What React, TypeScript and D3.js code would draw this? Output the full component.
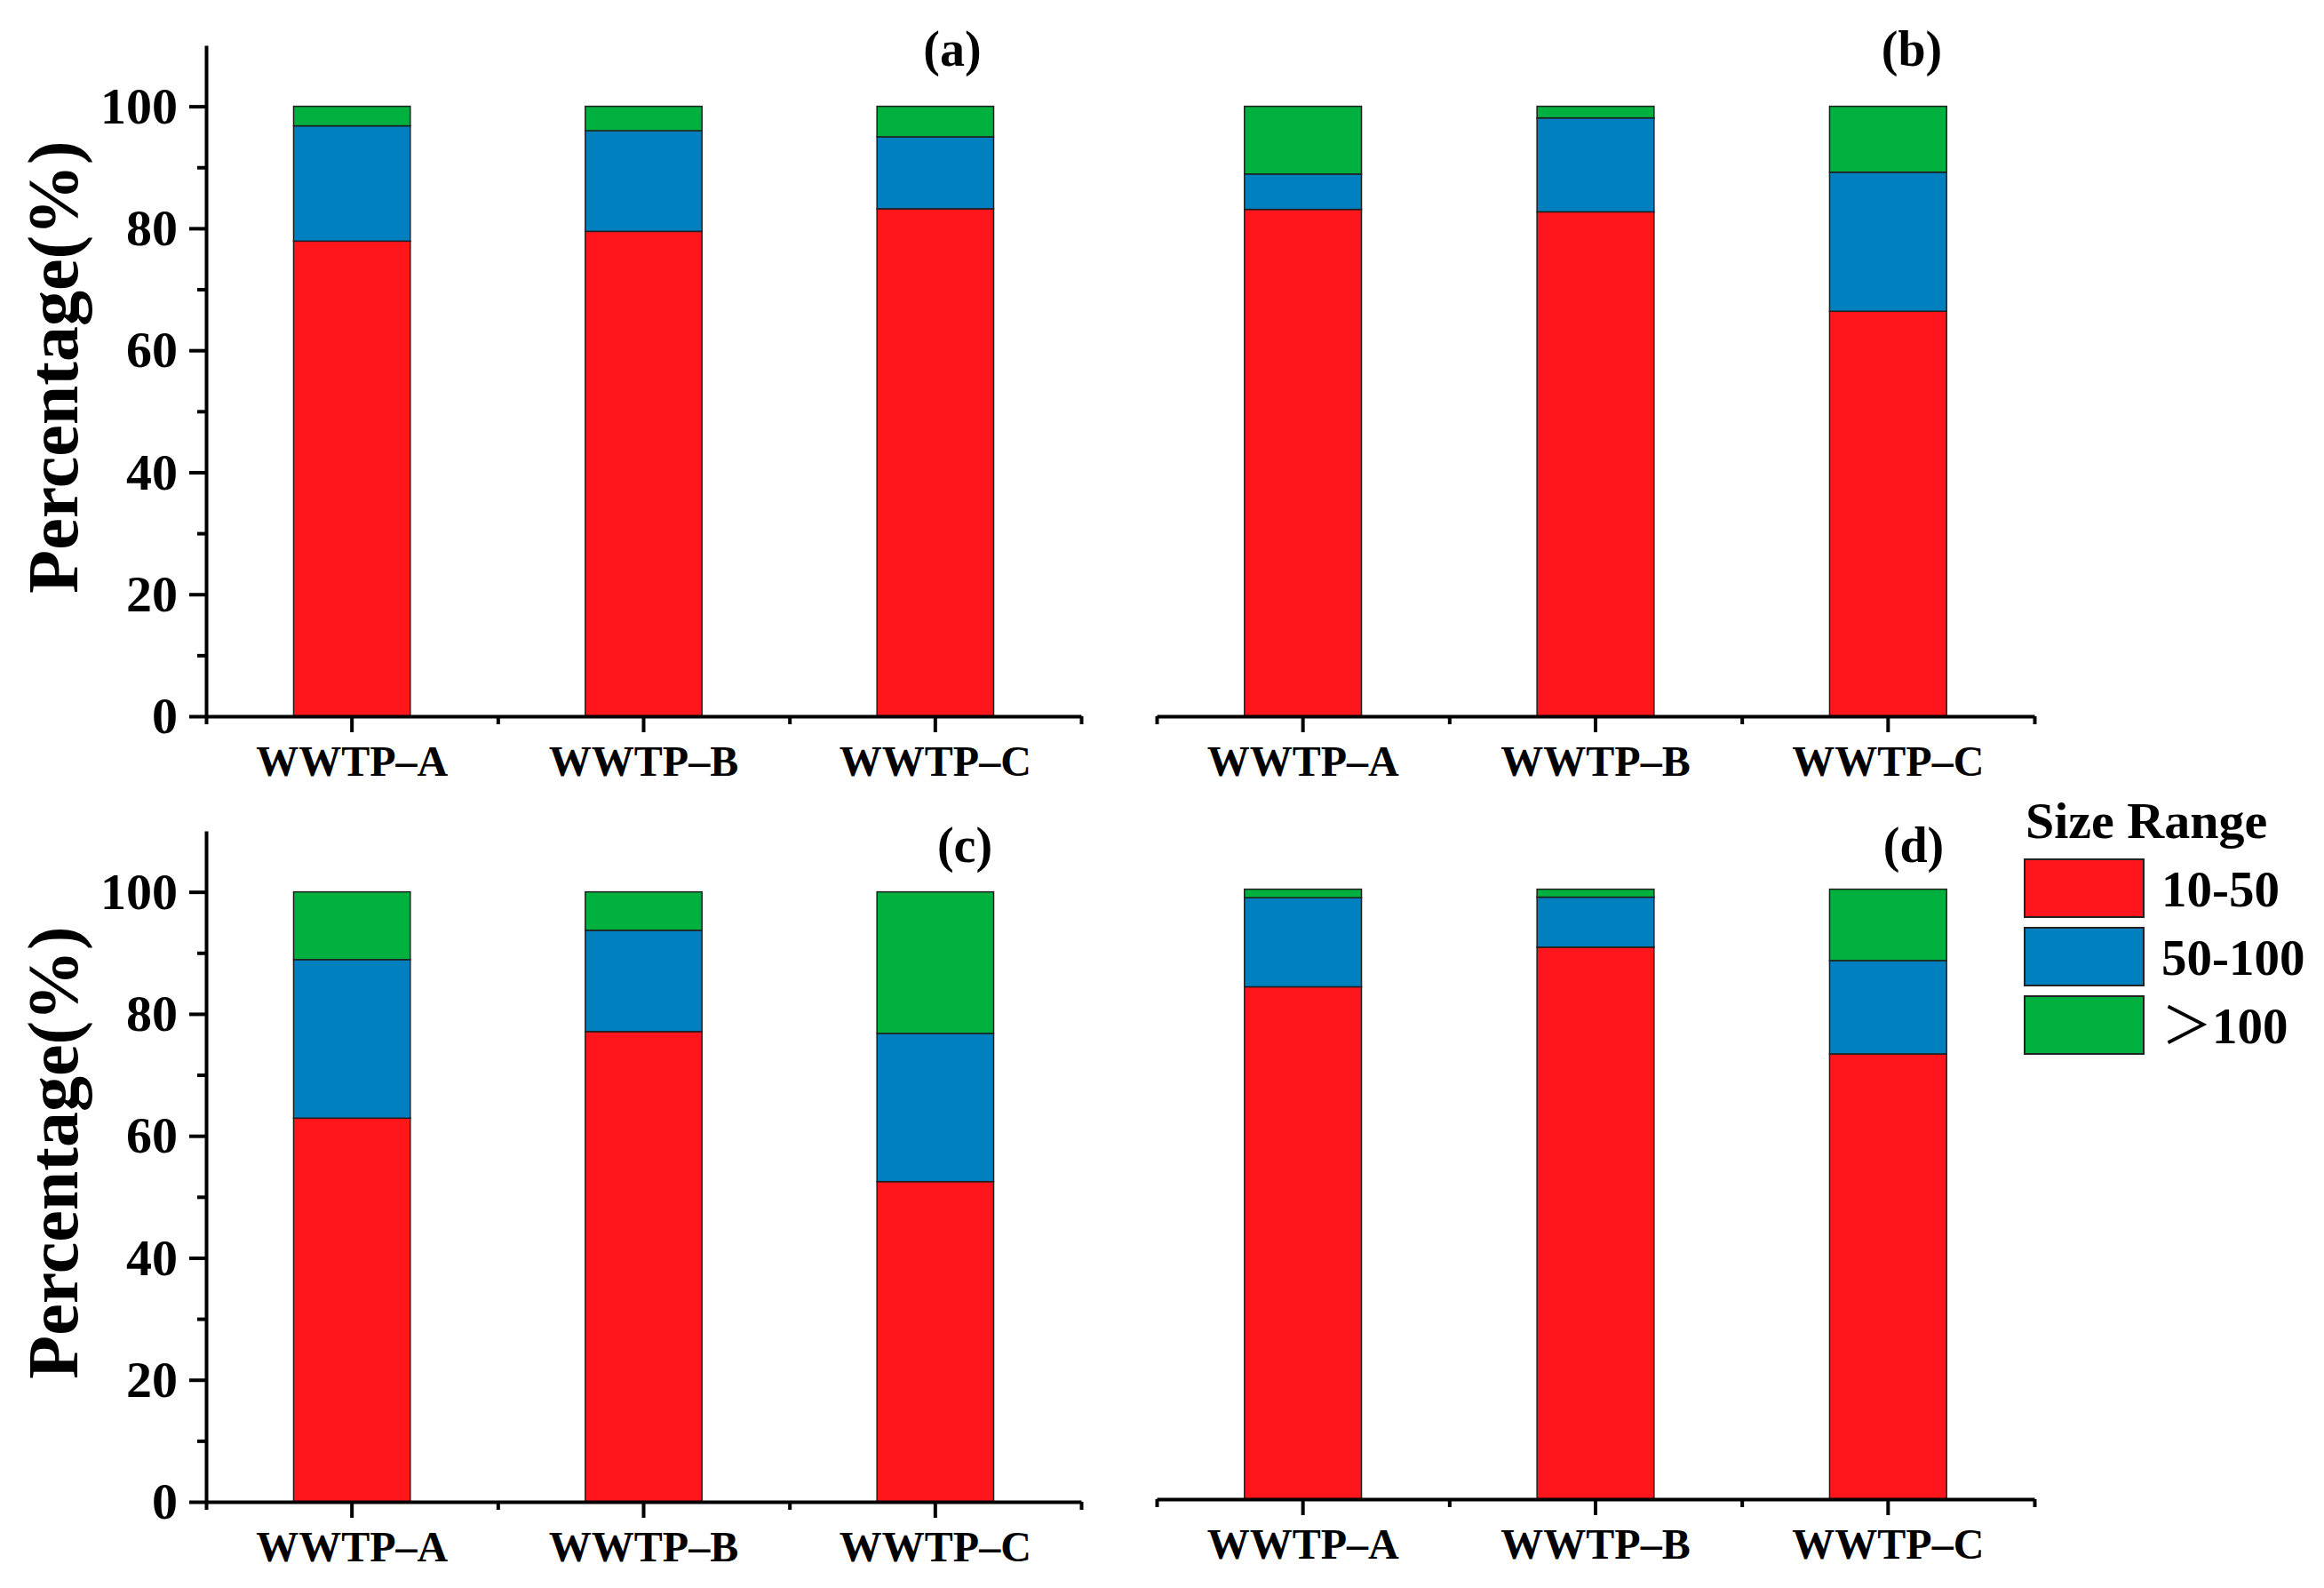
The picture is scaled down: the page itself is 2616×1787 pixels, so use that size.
import React, { useRef, useEffect } from 'react';
import { select, scaleBand, scaleLinear, stack, axisBottom, axisLeft } from 'd3';

// categories and series
const categories = ['WWTP–A', 'WWTP–B', 'WWTP–C'];
const sizeRanges = ['10-50', '50-100', '＞100'];
const colors = ['#FF161C', '#0080BE', '#00B140'];

// y axis ticks
const yTicks = [0, 20, 40, 60, 80, 100];
const yMinorTicks = [10, 30, 50, 70, 90];

// (a)
const a_10_50 = [77.9, 79.5, 83.2];
const a_50_100 = [18.9, 16.5, 11.8];
const a_over100 = [3.2, 4.0, 5.0];
// (b)
const b_10_50 = [83.1, 82.7, 66.4];
const b_50_100 = [5.8, 15.4, 22.8];
const b_over100 = [11.1, 1.9, 10.8];
// (c)
const c_10_50 = [62.9, 77.1, 52.5];
const c_50_100 = [26.0, 16.6, 24.3];
const c_over100 = [11.1, 6.3, 23.2];
// (d)
const d_10_50 = [84.0, 90.5, 73.0];
const d_50_100 = [14.6, 8.2, 15.3];
const d_over100 = [1.4, 1.3, 11.7];

const FONT = "'Liberation Serif', 'Times New Roman', serif";
const PLOT_H = 755; // 0..110

const panels = [
    { id: '(a)', data: [a_10_50, a_50_100, a_over100], left: 232, right: 1217, base: 806, yAxis: true, lx: 1072, ly: 74 },
    { id: '(b)', data: [b_10_50, b_50_100, b_over100], left: 1302, right: 2290, base: 806, yAxis: false, lx: 2152, ly: 74 },
    { id: '(c)', data: [c_10_50, c_50_100, c_over100], left: 232, right: 1217, base: 1690, yAxis: true, lx: 1086, ly: 970 },
    { id: '(d)', data: [d_10_50, d_50_100, d_over100], left: 1302, right: 2290, base: 1687, yAxis: false, lx: 2154, ly: 970 },
];

export default function App() {
    const svgRef: { current: SVGSVGElement | null } = useRef(null);

    useEffect(() => {
        const svg = select(svgRef.current);
        svg.selectAll('*').remove();

        panels.forEach((p) => {
            const g = svg.append('g');
            const x: any = scaleBand().domain(categories).range([p.left, p.right]).paddingInner(0.6).paddingOuter(0.3);
            const y: any = scaleLinear().domain([0, 110]).range([p.base, p.base - PLOT_H]);

            const rows = categories.map((c, i) => ({ cat: c, s0: p.data[0][i], s1: p.data[1][i], s2: p.data[2][i] }));
            const series = stack<any>().keys(['s0', 's1', 's2'])(rows);

            g.selectAll('.layer')
                .data(series)
                .join('g')
                .attr('fill', (d, i) => colors[i])
                .selectAll('rect')
                .data((d) => d)
                .join('rect')
                .attr('x', (d: any) => x(d.data.cat))
                .attr('width', x.bandwidth())
                .attr('y', (d: any) => y(d[1]))
                .attr('height', (d: any) => y(d[0]) - y(d[1]))
                .attr('stroke', '#1f1f1f')
                .attr('stroke-width', 1.5);

            // x axis, major ticks under the bars, minor ticks at band edges
            const xAxis: any = axisBottom(x).tickSize(18).tickSizeOuter(0).tickPadding(15);
            const gx = g.append('g').attr('transform', `translate(0,${p.base})`).call(xAxis);
            gx.select('.domain').attr('stroke-width', 4).attr('stroke', '#000');
            gx.selectAll('.tick line').attr('stroke-width', 4).attr('stroke', '#000');
            gx.selectAll('.tick text')
                .attr('font-family', FONT)
                .attr('font-weight', 'bold')
                .attr('font-size', 48)
                .attr('fill', '#000');

            const xm: any = scaleLinear().domain([0, 3]).range([p.left, p.right]);
            const gxm = g
                .append('g')
                .attr('transform', `translate(0,${p.base})`)
                .call(axisBottom(xm).tickValues([0, 1, 2, 3]).tickSize(9).tickFormat(() => '') as any);
            gxm.select('.domain').remove();
            gxm.selectAll('.tick line').attr('stroke-width', 4).attr('stroke', '#000');

            if (p.yAxis) {
                const yAxis: any = axisLeft(y).tickValues(yTicks).tickSize(19).tickSizeOuter(0).tickPadding(13);
                const gy = g.append('g').attr('transform', `translate(${p.left},0)`).call(yAxis);
                gy.select('.domain').attr('stroke-width', 4).attr('stroke', '#000');
                gy.selectAll('.tick line').attr('stroke-width', 4).attr('stroke', '#000');
                gy.selectAll('.tick text')
                    .attr('font-family', FONT)
                    .attr('font-weight', 'bold')
                    .attr('font-size', 58)
                    .attr('fill', '#000');

                const gym = g
                    .append('g')
                    .attr('transform', `translate(${p.left},0)`)
                    .call(axisLeft(y).tickValues(yMinorTicks).tickSize(10).tickFormat(() => '') as any);
                gym.select('.domain').remove();
                gym.selectAll('.tick line').attr('stroke-width', 4).attr('stroke', '#000');

                g.append('text')
                    .attr('transform', `translate(87,${p.base - 393}) rotate(-90)`)
                    .attr('text-anchor', 'middle')
                    .attr('font-family', FONT)
                    .attr('font-weight', 'bold')
                    .attr('font-size', 80)
                    .text('Percentage(%)');
            }

            g.append('text')
                .attr('x', p.lx)
                .attr('y', p.ly)
                .attr('text-anchor', 'middle')
                .attr('font-family', FONT)
                .attr('font-weight', 'bold')
                .attr('font-size', 56)
                .text(p.id);
        });

        // legend
        const lg = svg.append('g');
        lg.append('text')
            .attr('x', 2280)
            .attr('y', 943)
            .attr('font-family', FONT)
            .attr('font-weight', 'bold')
            .attr('font-size', 58)
            .text('Size Range');
        sizeRanges.forEach((s, i) => {
            lg.append('rect')
                .attr('x', 2279)
                .attr('y', 967 + i * 77)
                .attr('width', 134)
                .attr('height', 65)
                .attr('fill', colors[i])
                .attr('stroke', '#222')
                .attr('stroke-width', 2);
            const t = lg
                .append('text')
                .attr('x', 2433)
                .attr('y', 1020 + i * 77)
                .attr('font-family', FONT)
                .attr('font-weight', 'bold')
                .attr('font-size', 57);
            if (s.startsWith('＞')) {
                t.append('tspan')
                    .attr('font-family', "'Noto Sans CJK SC', sans-serif")
                    .attr('font-weight', 'normal')
                    .text('＞');
                t.append('tspan').text(s.slice(1));
            } else {
                t.text(s);
            }
        });
    }, []);

    return (
        <svg
            ref={svgRef}
            width={2616}
            height={1787}
            style={{ position: 'absolute', left: 0, top: 0, background: '#fff' }}
        />
    );
}
